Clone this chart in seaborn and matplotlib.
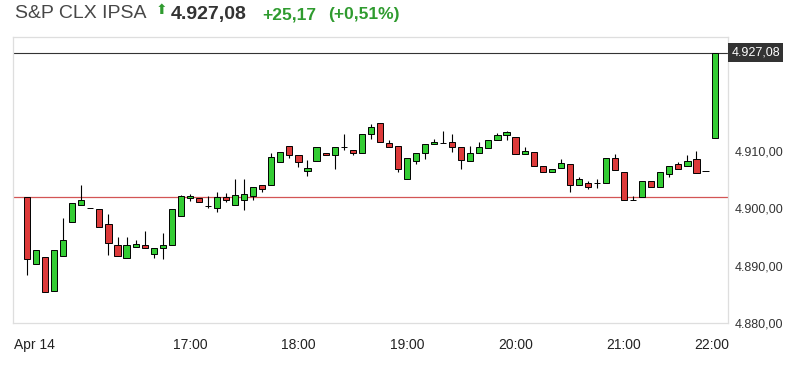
import matplotlib
matplotlib.use("Agg")
import matplotlib.pyplot as plt
import matplotlib.transforms as mtransforms
import numpy as np
import pandas as pd
import seaborn as sns

# ---- data (5-minute candles) ----
opens = [4901.9, 4890.2, 4891.5, 4885.6, 4891.6, 4897.6, 4900.5, 4900.1, 4899.8, 4897.3,
         4893.5, 4891.4, 4893.3, 4893.6, 4892.0, 4893.0, 4893.5, 4898.7, 4901.8, 4901.8,
         4900.4, 4900.0, 4902.0, 4900.6, 4901.5, 4902.1, 4904.0, 4904.1, 4908.1, 4910.9,
         4909.3, 4906.5, 4908.2, 4909.6, 4909.2, 4910.6, 4910.05, 4909.6, 4912.9, 4914.8,
         4911.3, 4910.9, 4905.1, 4908.2, 4909.6, 4911.1, 4911.4, 4911.6, 4910.6, 4908.2,
         4909.6, 4910.5, 4911.8, 4912.7, 4912.4, 4909.4, 4909.8, 4907.3, 4906.3, 4907.0,
         4907.6, 4904.1, 4904.4, 4904.4, 4904.4, 4908.7, 4906.3, 4901.5, 4901.9, 4904.7,
         4903.7, 4906.0, 4907.7, 4907.4, 4908.5, 4906.5, 4912.2]
highs = [4901.9, 4892.7, 4891.5, 4892.7, 4898.2, 4900.9, 4904.1, 4900.1, 4899.8, 4899.0,
         4894.9, 4894.9, 4894.5, 4896.1, 4893.0, 4895.6, 4899.8, 4902.3, 4902.5, 4901.8,
         4902.1, 4902.8, 4902.7, 4905.1, 4905.0, 4903.7, 4904.0, 4909.6, 4909.7, 4910.9,
         4909.3, 4908.3, 4910.6, 4909.6, 4910.6, 4912.9, 4910.05, 4912.95, 4914.7, 4914.8,
         4911.8, 4910.9, 4908.7, 4909.6, 4911.2, 4912.1, 4913.4, 4912.95, 4910.6, 4910.9,
         4911.5, 4911.8, 4913.1, 4913.5, 4912.4, 4910.6, 4909.8, 4907.3, 4906.9, 4908.6,
         4907.6, 4905.4, 4904.8, 4905.1, 4908.7, 4909.5, 4906.3, 4902.2, 4904.7, 4904.7,
         4906.3, 4907.3, 4908.0, 4909.3, 4909.9, 4906.5, 4927.08]
lows = [4888.4, 4890.2, 4885.4, 4885.6, 4891.6, 4897.6, 4900.5, 4900.1, 4896.7, 4891.9,
        4891.6, 4891.4, 4893.3, 4893.0, 4891.3, 4891.1, 4893.5, 4898.7, 4901.3, 4901.1,
        4900.1, 4899.3, 4901.1, 4900.6, 4899.6, 4901.5, 4902.8, 4904.1, 4908.1, 4908.7,
        4907.2, 4905.6, 4908.2, 4909.2, 4906.9, 4910.2, 4909.2, 4909.6, 4912.1, 4911.5,
        4910.6, 4906.3, 4905.1, 4907.6, 4908.6, 4911.1, 4911.4, 4909.8, 4906.9, 4908.2,
        4909.6, 4910.5, 4911.8, 4911.8, 4909.4, 4909.4, 4907.3, 4906.3, 4906.3, 4907.0,
        4902.8, 4904.1, 4903.4, 4903.5, 4904.4, 4906.6, 4901.4, 4901.5, 4901.9, 4903.7,
        4903.7, 4905.4, 4906.9, 4907.4, 4906.1, 4906.5, 4912.2]
closes = [4891.2, 4892.7, 4885.4, 4892.7, 4894.4, 4900.9, 4901.5, 4900.1, 4896.7, 4893.9,
          4891.6, 4893.5, 4893.8, 4893.0, 4893.0, 4893.5, 4899.8, 4902.2, 4902.1, 4901.1,
          4900.4, 4901.9, 4901.5, 4902.3, 4902.5, 4903.7, 4903.3, 4908.9, 4909.7, 4909.3,
          4908.1, 4907.0, 4910.6, 4909.2, 4910.6, 4910.6, 4909.6, 4912.95, 4914.1, 4911.5,
          4910.6, 4906.9, 4908.7, 4909.6, 4911.2, 4911.6, 4911.4, 4910.6, 4908.3, 4909.6,
          4910.6, 4911.8, 4912.7, 4913.2, 4909.4, 4909.9, 4907.3, 4906.3, 4906.9, 4907.9,
          4904.1, 4905.0, 4903.7, 4904.4, 4908.7, 4906.6, 4901.4, 4901.5, 4904.7, 4903.7,
          4906.3, 4907.3, 4906.9, 4908.2, 4906.1, 4906.5, 4927.08]

prev_close = 4901.91
last_price = 4927.08
change = 25.17
change_pct = 0.51

tick_pos = [18, 30, 42, 54, 66, 75.7]
tick_labels = ["17:00", "18:00", "19:00", "20:00", "21:00", "22:00"]
day_label = "Apr 14"
y_ticks = [4880, 4890, 4900, 4910]
title = "S&P CLX IPSA"


def fmt(v):
    s = f"{v:,.2f}"
    return s.replace(",", "X").replace(".", ",").replace("X", ".")


df = pd.DataFrame({"open": opens, "high": highs, "low": lows, "close": closes})
df["idx"] = np.arange(len(df))

sns.set_theme(style="white")
plt.rcParams["font.family"] = ["Liberation Sans", "DejaVu Sans"]

fig = plt.figure(figsize=(8.04, 3.72), dpi=100)
W, H = 804, 372
ax = fig.add_axes([13.3 / W, (H - 323) / H, (727.7 - 13.3) / W, (323 - 37) / H])

GREEN = "#33cc33"
RED = "#dd3a3a"

# wicks
ax.vlines(df["idx"], df["low"], df["high"], color="black", linewidth=0.8, zorder=2)

# bodies
body_h = df["close"] - df["open"]
colors = [GREEN if c > o else (RED if c < o else "black") for o, c in zip(df["open"], df["close"])]
ax.bar(df["idx"], body_h, bottom=df["open"], width=0.68, color=colors,
       edgecolor="black", linewidth=0.7, zorder=3)

# reference lines
ax.axhline(prev_close, color="#d35555", linewidth=0.9, zorder=1)
ax.axhline(last_price, color="#333333", linewidth=0.8, zorder=1)

ax.set_xlim(-1.52, 77.45)
ax.set_ylim(4880, 4929.8)

for s in ax.spines.values():
    s.set_visible(True)
    s.set_color("#dedede")
    s.set_linewidth(0.9)
ax.grid(False)

ax.set_yticks(y_ticks)
ax.set_yticklabels([fmt(v) for v in y_ticks])
ax.yaxis.tick_right()
ax.tick_params(axis="y", length=0, pad=5, labelsize=9, labelcolor="#333333")

ax.set_xticks([-1.4] + tick_pos)
ax.set_xticklabels([day_label] + tick_labels)
ax.tick_params(axis="x", length=0, pad=11, labelsize=10, labelcolor="#222222")
ax.get_xticklabels()[0].set_horizontalalignment("left")

# last price tag
trans = mtransforms.blended_transform_factory(ax.transAxes, ax.transData)
ax.text(1.005, last_price, fmt(last_price), transform=trans, ha="left", va="center",
        fontsize=9, color="white", zorder=5,
        bbox=dict(boxstyle="square,pad=0.25", facecolor="#333333", edgecolor="none"))

# header
fig.text(15 / W, 1 - 14 / H, title, fontsize=14, color="#474747", va="center", ha="left")
fig.text(161 / W, 1 - 10 / H, "\u2b06", fontsize=10, color="#2f9b2f", va="center", ha="center",
         family="DejaVu Sans")
fig.text(171 / W, 1 - 14 / H, fmt(last_price), fontsize=14, fontweight="bold",
         color="#333333", va="center", ha="left")
fig.text(262 / W, 1 - 15 / H, "+" + fmt(change), fontsize=12.5, fontweight="bold",
         color="#2f9b2f", va="center", ha="left")
fig.text(328 / W, 1 - 15 / H, "(+" + fmt(change_pct) + "%)", fontsize=12.5, fontweight="bold",
         color="#2f9b2f", va="center", ha="left")

fig.savefig("out.png", dpi=100)
